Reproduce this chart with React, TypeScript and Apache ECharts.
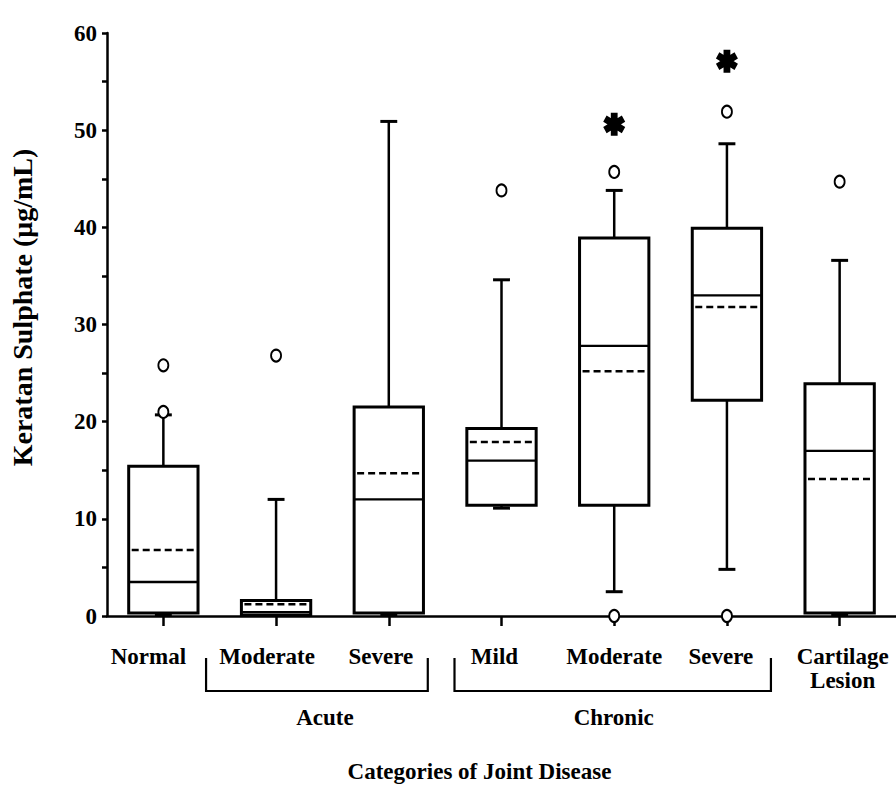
import React, { useEffect, useRef } from 'react';
import * as echarts from 'echarts';

const categories = ['Normal', 'Moderate', 'Severe', 'Mild', 'Moderate', 'Severe', 'Cartilage\nLesion'];
const whiskerLow = [0.1, 0.1, 0.1, 11.1, 2.5, 4.8, 0.1];
const q1 = [0.3, 0.1, 0.3, 11.4, 11.4, 22.2, 0.3];
const median = [3.5, 0.4, 12.0, 16.0, 27.8, 33.0, 17.0];
const q3 = [15.4, 1.6, 21.5, 19.3, 38.9, 39.9, 23.9];
const whiskerHigh = [20.7, 12.0, 50.9, 34.6, 43.8, 48.6, 36.6];
const mean = [6.8, 1.2, 14.7, 17.9, 25.2, 31.8, 14.1];
const outliers: [number, number][] = [
  [0, 25.8], [0, 21.0], [1, 26.8], [3, 43.8], [4, 45.7], [4, 0], [5, 51.9], [5, 0], [6, 44.7],
];
const significance: [number, number][] = [[4, 50.6], [5, 57.1]];
const yMin = 0;
const yMax = 60;
const yInterval = 10;
const groups = [
  { name: 'Acute', from: 1, to: 2 },
  { name: 'Chronic', from: 3, to: 5 },
];
const yTitle = 'Keratan Sulphate (μg/mL)';
const xTitle = 'Categories of Joint Disease';

// layout-only tweaks (pixels)
const labelShift = [-15, -9, -8, -7, 0, -6, 3];
const bracketPad = [[-70, 39], [-47, 44]];
const groupLabelDx = [8, 1];

const FONT = "'Liberation Serif', 'Times New Roman', serif";
const ASTERISK =
  'path://M-3.8,-12L3.8,-12L3.8,12L-3.8,12ZM8.492,-9.291L12.292,-2.709L-8.492,9.291L-12.292,2.709ZM12.292,2.709L8.492,9.291L-12.292,-2.709L-8.492,-9.291Z';

export default function App() {
  const ref = useRef<HTMLDivElement>(null);
  useEffect(() => {
    const chart = echarts.init(ref.current!, null, { renderer: 'svg' });
    const boxData = categories.map((_, i) => [i, whiskerLow[i], q1[i], median[i], q3[i], whiskerHigh[i], mean[i]]);
    const rich: Record<string, any> = {};
    labelShift.forEach((s, i) => {
      rich['s' + i] = {
        fontFamily: FONT, fontWeight: 'bold', fontSize: 23, lineHeight: 24, color: '#000',
        padding: s < 0 ? [0, -2 * s, 0, 0] : [0, 0, 0, 2 * s],
      };
    });
    const option: any = {
      animation: false,
      backgroundColor: '#fff',
      grid: { left: 107, right: -2, top: 33, bottom: 173, containLabel: false },
      xAxis: {
        type: 'category',
        data: categories,
        boundaryGap: true,
        axisLine: { show: true, lineStyle: { color: '#000', width: 2.5 } },
        axisTick: { show: true, alignWithLabel: true, length: 10, lineStyle: { color: '#000', width: 2.5 } },
        axisLabel: {
          interval: 0, margin: 28, color: '#000', fontFamily: FONT, fontWeight: 'bold', fontSize: 23, lineHeight: 24,
          formatter: (v: string, i: number) => v.split('\n').map((t) => `{s${i}|${t}}`).join('\n'),
          rich,
        },
        splitLine: { show: false },
      },
      yAxis: {
        type: 'value',
        min: yMin,
        max: yMax,
        interval: yInterval,
        axisLine: { show: true, lineStyle: { color: '#000', width: 2.5 } },
        axisTick: { show: true, length: 5, lineStyle: { color: '#000', width: 2.5 } },
        minorTick: { show: true, splitNumber: 2, length: 5, lineStyle: { color: '#000', width: 2.5 } },
        axisLabel: {
          margin: 10, color: '#000', fontFamily: FONT, fontWeight: 'bold', fontSize: 23,
          padding: [0, 0, 14, 0],
        },
        splitLine: { show: false },
        minorSplitLine: { show: false },
      },
      series: [
        {
          type: 'custom',
          data: boxData,
          encode: { x: 0, y: [1, 2, 3, 4, 5, 6] },
          renderItem: (params: any, api: any) => {
            const xi = api.value(0);
            const c = api.coord([xi, api.value(1)]);
            const cx = c[0];
            const yLow = c[1];
            const yQ1 = api.coord([xi, api.value(2)])[1];
            const yMed = api.coord([xi, api.value(3)])[1];
            const yQ3 = api.coord([xi, api.value(4)])[1];
            const yHigh = api.coord([xi, api.value(5)])[1];
            const yMean = api.coord([xi, api.value(6)])[1];
            const band = api.size([1, 0])[0];
            const bw = band * 0.615;
            const cw = band * 0.15;
            const stroke = { stroke: '#000', lineWidth: 2.5, fill: null };
            return {
              type: 'group',
              children: [
                { type: 'line', shape: { x1: cx, y1: yQ3, x2: cx, y2: yHigh }, style: stroke },
                { type: 'line', shape: { x1: cx - cw / 2, y1: yHigh, x2: cx + cw / 2, y2: yHigh }, style: { ...stroke, lineWidth: 3 } },
                { type: 'line', shape: { x1: cx, y1: yQ1, x2: cx, y2: yLow }, style: stroke },
                { type: 'line', shape: { x1: cx - cw / 2, y1: yLow, x2: cx + cw / 2, y2: yLow }, style: { ...stroke, lineWidth: 3 } },
                {
                  type: 'rect',
                  shape: { x: cx - bw / 2, y: yQ3, width: bw, height: Math.max(yQ1 - yQ3, 1) },
                  style: { stroke: '#000', lineWidth: 3, fill: '#fff' },
                },
                { type: 'line', shape: { x1: cx - bw / 2, y1: yMed, x2: cx + bw / 2, y2: yMed }, style: { ...stroke, lineWidth: 2.3 } },
                {
                  type: 'line',
                  shape: { x1: cx - bw / 2 + 3, y1: yMean, x2: cx + bw / 2 - 3, y2: yMean },
                  style: { stroke: '#000', lineWidth: 2.5, lineDash: [7, 4], fill: null },
                },
              ],
            };
          },
          z: 2,
        },
        {
          type: 'scatter',
          data: outliers,
          symbol: 'emptyCircle',
          symbolSize: [10, 12],
          itemStyle: { color: '#000', borderColor: '#000', borderWidth: 2.8, opacity: 1 },
          z: 3,
        },
        {
          type: 'scatter',
          data: significance,
          symbol: ASTERISK,
          symbolSize: [22, 23],
          itemStyle: { color: '#000', opacity: 1 },
          z: 3,
        },
      ],
    };
    chart.setOption(option);

    const y0 = chart.convertToPixel({ yAxisIndex: 0 }, 0) as number;
    const yTop = chart.convertToPixel({ yAxisIndex: 0 }, yMax) as number;
    const px = (i: number) => chart.convertToPixel({ xAxisIndex: 0 }, i) as number;
    const xLeft = px(0) - (px(1) - px(0)) / 2;
    const xRight = px(categories.length - 1) + (px(1) - px(0)) / 2;
    const graphic: any[] = [];
    groups.forEach((g, gi) => {
      const left = px(g.from) + bracketPad[gi][0];
      const right = px(g.to) + bracketPad[gi][1];
      const top = y0 + 42;
      const bot = y0 + 75;
      graphic.push({
        type: 'polyline',
        shape: { points: [[left, top], [left, bot], [right, bot], [right, top]] },
        style: { stroke: '#000', lineWidth: 2.2, fill: null },
      });
      graphic.push({
        type: 'text',
        x: (left + right) / 2 + groupLabelDx[gi],
        y: y0 + 101,
        style: {
          text: g.name, fontFamily: FONT, fontWeight: 'bold', fontSize: 23, fill: '#000',
          align: 'center', verticalAlign: 'middle',
        },
      });
    });
    graphic.push({
      type: 'text',
      x: (xLeft + xRight) / 2 - 22,
      y: y0 + 155,
      style: {
        text: xTitle, fontFamily: FONT, fontWeight: 'bold', fontSize: 23, fill: '#000',
        align: 'center', verticalAlign: 'middle',
      },
    });
    graphic.push({
      type: 'text',
      x: xLeft - 85,
      y: (y0 + yTop) / 2 - 17,
      rotation: Math.PI / 2,
      style: {
        text: yTitle, fontFamily: FONT, fontWeight: 'bold', fontSize: 28, fill: '#000',
        align: 'center', verticalAlign: 'middle',
      },
    });
    chart.setOption({ graphic });
    return () => chart.dispose();
  }, []);
  return (
    <div
      ref={ref}
      style={{ position: 'fixed', left: 0, top: 0, width: 896, height: 789, background: '#fff' }}
    />
  );
}
